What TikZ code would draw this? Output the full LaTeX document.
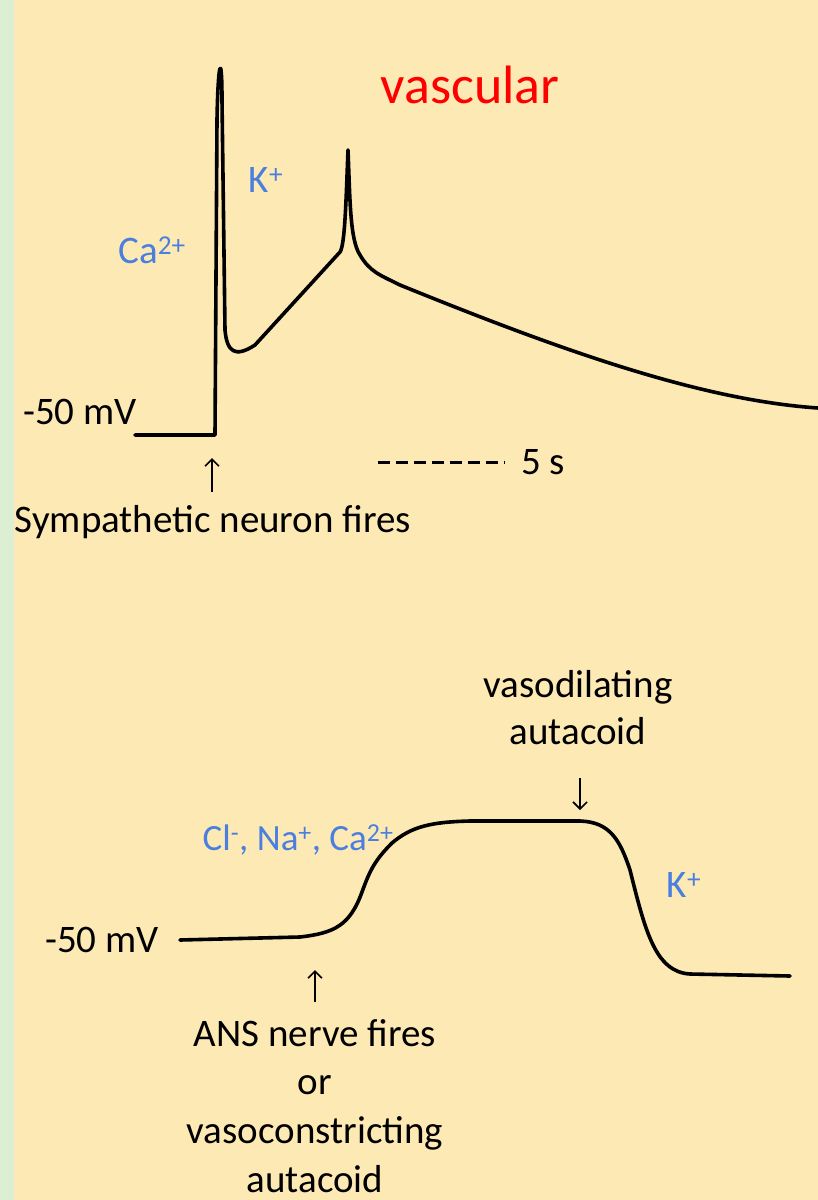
\documentclass[tikz,border=0pt]{standalone}
\usepackage{fontspec}
\usetikzlibrary{arrows.meta}
\setmainfont{Carlito}
\definecolor{bg}{HTML}{FDE9B4}
\definecolor{strip}{HTML}{DDEFD2}
\definecolor{ionblue}{HTML}{4A7FE0}
\begin{document}
\begin{tikzpicture}[x=1pt,y=-1pt,
  lbl/.style={font=\fontsize{39}{42}\selectfont,inner sep=0pt},
  ion/.style={lbl,text=ionblue},
  trace/.style={line width=3.6pt,line join=round,line cap=round},
  marker/.style={line width=1.6pt,-{Straight Barb[length=7pt,width=14pt]}}]
\useasboundingbox (0,0) rectangle (818,1200);
\fill[bg] (0,0) rectangle (818,1200);
\fill[strip] (0,0) rectangle (14,1200);
% top trace
\draw[trace] (135,435) -- (215,435) -- (217,120) .. controls (218,60) and (222,50) .. (222,100) -- (225,330)
  .. controls (227,352) and (235,358) .. (255,345)
  -- (340,252) .. controls (345,245) and (346,200) .. (348,150)
  .. controls (350,200) and (350,240) .. (360,255)
  .. controls (370,272) and (380,275) .. (400,285)
  .. controls (560,350) and (700,400) .. (818,408);
\node[lbl,text=red,font=\fontsize{54}{56}\selectfont] (vasc) at (470,85) {vascular};
\node[ion] (k1) at (266,180) {K\textsuperscript{+}};
\node[ion] (ca1) at (152,250) {Ca\textsuperscript{2+}};
\node[lbl] (mv1) at (80,412) {-50 mV};
\coordinate (a1s) at (212,492);
\coordinate (a1e) at (212,458);
\draw[marker] (a1s) -- (a1e);
\node[lbl] (symp) at (213,522) {Sympathetic neuron fires};
\coordinate (d1) at (378,462);
\coordinate (d2) at (505,462);
\draw[line width=3pt,dash pattern=on 12pt off 6pt] (d1) -- (d2);
\node[lbl] (five) at (543,462) {5 s};
% bottom trace
\draw[trace] (180,940) -- (300,937)
  .. controls (335,933) and (350,925) .. (362,892)
  .. controls (370,870) and (375,860) .. (392,843)
  .. controls (412,826) and (432,822) .. (470,821)
  -- (580,821) .. controls (610,822) and (620,840) .. (630,870)
  .. controls (645,930) and (655,972) .. (690,974) -- (790,976);
\node[lbl] (vd1) at (578,687) {vasodilating};
\node[lbl] (vd2) at (578,731) {autacoid};
\coordinate (a2s) at (580,778);
\coordinate (a2e) at (580,810);
\draw[marker] (a2s) -- (a2e);
\node[ion,font=\fontsize{37}{40}\selectfont] (ions) at (298,840) {Cl\textsuperscript{-}, Na\textsuperscript{+}, Ca\textsuperscript{2+}};
\node[ion] (k2) at (684,885) {K\textsuperscript{+}};
\node[lbl] (mv2) at (102,940) {-50 mV};
\coordinate (a3s) at (315,1002);
\coordinate (a3e) at (315,970);
\draw[marker] (a3s) -- (a3e);
\node[lbl] (ans1) at (315,1033) {ANS nerve fires};
\node[lbl] (ans2) at (315,1085) {or};
\node[lbl] (ans3) at (315,1133) {vasoconstricting};
\node[lbl] (ans4) at (315,1179) {autacoid};
\end{tikzpicture}
\end{document}
